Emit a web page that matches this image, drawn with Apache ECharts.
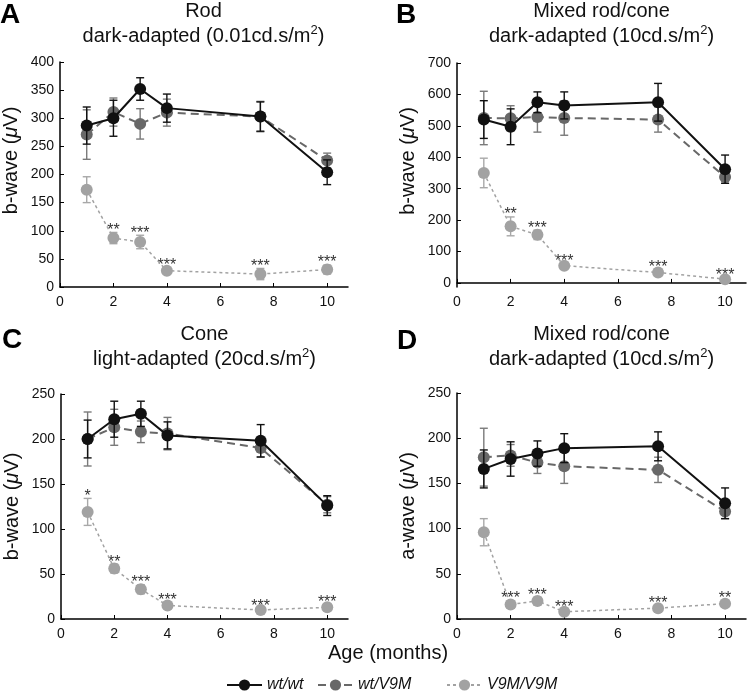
<!doctype html>
<html lang="en">
  <head>
    <meta charset="UTF-8" />
    <title>ERG b-wave / a-wave by age</title>
    <script src="https://cdn.jsdelivr.net/npm/echarts@6/dist/echarts.min.js"></script>
    <style type="text/css">
      * {
        margin: 0;
        padding: 0;
      }
      html,
      body,
      #chart {
        width: 100%;
        height: 100%;
        overflow: hidden;
        background: #fff;
      }
    </style>
  </head>
  <body>
    <div id="chart"></div>
  </body>
  <script>
    // ages in months (shared by all panels)
    const ages = [1, 2, 3, 4, 7.5, 10];
    const xTicks = [0, 2, 4, 6, 8, 10];
    const seriesNames = ['wt/wt', 'wt/V9M', 'V9M/V9M'];

    // A: rod, dark-adapted 0.01
    const rodWt = [287, 300, 352, 318, 303, 204];
    const rodWtErr = [33, 32, 20, 25, 26, 22];
    const rodHet = [271, 311, 290, 310, 303, 225];
    const rodHetErr = [44, 25, 27, 24, 27, 13];
    const rodHom = [173, 87, 80, 29, 23, 31];
    const rodHomErr = [23, 10, 12, 5, 10, 8];
    const rodStars = ['', '**', '***', '***', '***', '***'];

    // B: mixed rod/cone, dark-adapted 10
    const mixBWt = [520, 497, 575, 565, 575, 362];
    const mixBWtErr = [60, 57, 33, 43, 60, 45];
    const mixBHet = [525, 524, 528, 525, 520, 337];
    const mixBHetErr = [85, 40, 48, 55, 40, 20];
    const mixBHom = [350, 180, 153, 55, 33, 12];
    const mixBHomErr = [47, 30, 15, 8, 8, 6];
    const mixBStars = ['', '**', '***', '***', '***', '***'];
    const mixBTicks = [0, 100, 200, 300, 400, 500, 600, 700];

    // C: cone, light-adapted 20
    const coneWt = [200, 222, 228, 204, 198, 126];
    const coneWtErr = [21, 20, 14, 15, 18, 11];
    const coneHet = [200, 213, 208, 206, 190, 127];
    const coneHetErr = [30, 20, 12, 18, 10, 9];
    const coneHom = [119, 56, 33, 15, 10, 13];
    const coneHomErr = [15, 5, 5, 3, 2, 3];
    const coneStars = ['*', '**', '***', '***', '***', '***'];

    // D: mixed rod/cone a-wave, dark-adapted 10
    const awWt = [166, 177, 183, 189, 191, 128];
    const awWtErr = [21, 19, 14, 16, 16, 17];
    const awHet = [179, 181, 173, 169, 165, 119];
    const awHetErr = [32, 12, 12, 19, 14, 8];
    const awHom = [96, 16, 20, 8, 12, 17];
    const awHomErr = [15, 4, 4, 2, 3, 3];
    const awStars = ['', '***', '***', '***', '***', '**'];

    const font = 'Liberation Sans, Arial, sans-serif';
    const lineColors = ['#111111', '#686868', '#a2a2a2'];
    const barColors = ['#111111', '#7a7a7a', '#a8a8a8'];
    const lineTypes = ['solid', [8, 5], [3, 3]];
    const lineWidths = [2, 2, 1.5];

    const panels = [
      { letter: 'A', title: 'Rod', sub: 'dark-adapted (0.01cd.s/m{sup|2})', yName: 'b-wave',
        grid: { left: 59, top: 62, width: 289, height: 225 },
        y: { min: 0, max: 400, interval: 50 },
        means: [rodWt, rodHet, rodHom], errs: [rodWtErr, rodHetErr, rodHomErr], stars: rodStars },
      { letter: 'B', title: 'Mixed rod/cone', sub: 'dark-adapted (10cd.s/m{sup|2})', yName: 'b-wave',
        grid: { left: 457, top: 63, width: 289, height: 224 },
        y: { min: -13, max: 700, ticks: mixBTicks },
        means: [mixBWt, mixBHet, mixBHom], errs: [mixBWtErr, mixBHetErr, mixBHomErr], stars: mixBStars },
      { letter: 'C', title: 'Cone', sub: 'light-adapted (20cd.s/m{sup|2})', yName: 'b-wave',
        grid: { left: 61, top: 394, width: 287, height: 225 },
        y: { min: 0, max: 250, interval: 50 },
        means: [coneWt, coneHet, coneHom], errs: [coneWtErr, coneHetErr, coneHomErr], stars: coneStars },
      { letter: 'D', title: 'Mixed rod/cone', sub: 'dark-adapted (10cd.s/m{sup|2})', yName: 'a-wave',
        grid: { left: 457, top: 393, width: 289, height: 226 },
        y: { min: 0, max: 250, interval: 50 },
        means: [awWt, awHet, awHom], errs: [awWtErr, awHetErr, awHomErr], stars: awStars }
    ];
    const letterPos = [[0, 1], [396, 1], [2, 326], [397, 327]];

    function errRender(color, stars) {
      return function (params, api) {
        const x = api.value(0);
        const lo = api.coord([x, api.value(1)]);
        const hi = api.coord([x, api.value(2)]);
        const w = 4;
        const st = { stroke: color, lineWidth: 1.4 };
        const children = [
          { type: 'line', shape: { x1: lo[0], y1: lo[1], x2: hi[0], y2: hi[1] }, style: st },
          { type: 'line', shape: { x1: lo[0] - w, y1: lo[1], x2: lo[0] + w, y2: lo[1] }, style: st },
          { type: 'line', shape: { x1: hi[0] - w, y1: hi[1], x2: hi[0] + w, y2: hi[1] }, style: st }
        ];
        const s = stars ? stars[params.dataIndex] : '';
        if (s) {
          children.push({
            type: 'text',
            style: {
              text: s, x: hi[0], y: hi[1] + 6,
              align: 'center', verticalAlign: 'bottom',
              textAlign: 'center', textVerticalAlign: 'bottom',
              fill: '#333', font: '16px ' + font
            }
          });
        }
        return { type: 'group', children: children };
      };
    }

    const grids = [], xAxes = [], yAxes = [], series = [], titles = [];
    panels.forEach(function (p, i) {
      grids.push(p.grid);
      xAxes.push({
        type: 'value', gridIndex: i, min: 0, max: 10.78,
        axisLine: { lineStyle: { color: '#000', width: 1.5 } },
        axisTick: { inside: true, length: 4, customValues: xTicks, lineStyle: { color: '#000' } },
        axisLabel: { customValues: xTicks, color: '#111', fontSize: 14, fontFamily: font, margin: 8 },
        splitLine: { show: false }
      });
      const y = {
        type: 'value', gridIndex: i, min: p.y.min, max: p.y.max,
        name: p.yName + ' ({i|μ}V)', nameLocation: 'middle', nameGap: 39,
        nameTextStyle: { fontSize: 20, color: '#111', fontFamily: font,
          padding: i < 2 ? [0, 0, 0, 28] : 0,
          rich: { i: { fontSize: 20, fontStyle: 'italic', fontFamily: font, color: '#111' } } },
        axisLine: { show: true, lineStyle: { color: '#000', width: 1.5 } },
        axisTick: { show: true, inside: true, length: 4, lineStyle: { color: '#000' } },
        axisLabel: { color: '#111', fontSize: 14, fontFamily: font, margin: 6 },
        splitLine: { show: false }
      };
      if (p.y.ticks) {
        y.axisTick.customValues = p.y.ticks;
        y.axisLabel.customValues = p.y.ticks;
      } else {
        y.interval = p.y.interval;
      }
      yAxes.push(y);

      // draw order: V9M/V9M, wt/V9M, wt/wt on top
      [2, 1, 0].forEach(function (k) {
        const means = p.means[k], errs = p.errs[k];
        series.push({
          type: 'custom', xAxisIndex: i, yAxisIndex: i,
          renderItem: errRender(barColors[k], k === 2 ? p.stars : null),
          data: ages.map(function (a, j) { return [a, means[j] - errs[j], means[j] + errs[j]]; }),
          z: 2 + (2 - k) * 2, silent: true
        });
        series.push({
          type: 'line', name: seriesNames[k], xAxisIndex: i, yAxisIndex: i,
          data: ages.map(function (a, j) { return [a, means[j]]; }),
          symbol: 'circle', symbolSize: 12, showAllSymbol: true,
          itemStyle: { color: lineColors[k] },
          lineStyle: { color: lineColors[k], type: lineTypes[k], width: lineWidths[k] },
          z: 3 + (2 - k) * 2, animation: false
        });
      });

      const cx = p.grid.left + p.grid.width / 2;
      titles.push({
        text: p.letter, left: letterPos[i][0], top: letterPos[i][1], padding: 0,
        textStyle: { fontSize: 28, fontWeight: 'bold', color: '#000', fontFamily: font }
      });
      titles.push({
        text: p.title + '\n' + p.sub, left: cx, top: i < 2 ? -1 : 322, textAlign: 'center', padding: 0,
        textStyle: { fontSize: 20, fontWeight: 'normal', color: '#111', fontFamily: font, lineHeight: 25,
          rich: { sup: { fontSize: 13, verticalAlign: 'top', color: '#111', fontFamily: font, lineHeight: 18 } } }
      });
    });

    function legendAt(name, left) {
      return {
        data: [name], left: left, top: 677, padding: 0, itemWidth: 35, itemHeight: 14, itemGap: 6,
        textStyle: { fontSize: 16, fontStyle: 'italic', color: '#111', fontFamily: font }
      };
    }

    const option = {
      animation: false,
      backgroundColor: '#fff',
      title: titles,
      grid: grids,
      xAxis: xAxes,
      yAxis: yAxes,
      legend: [legendAt('wt/wt', 226), legendAt('wt/V9M', 317), legendAt('V9M/V9M', 446)],
      graphic: [{
        type: 'text', left: 328, top: 643,
        style: { text: 'Age (months)', fill: '#111', font: '20px ' + font }
      }],
      series: series
    };
    const chart = echarts.init(document.getElementById('chart'));
    chart.setOption(option);
  </script>
</html>
